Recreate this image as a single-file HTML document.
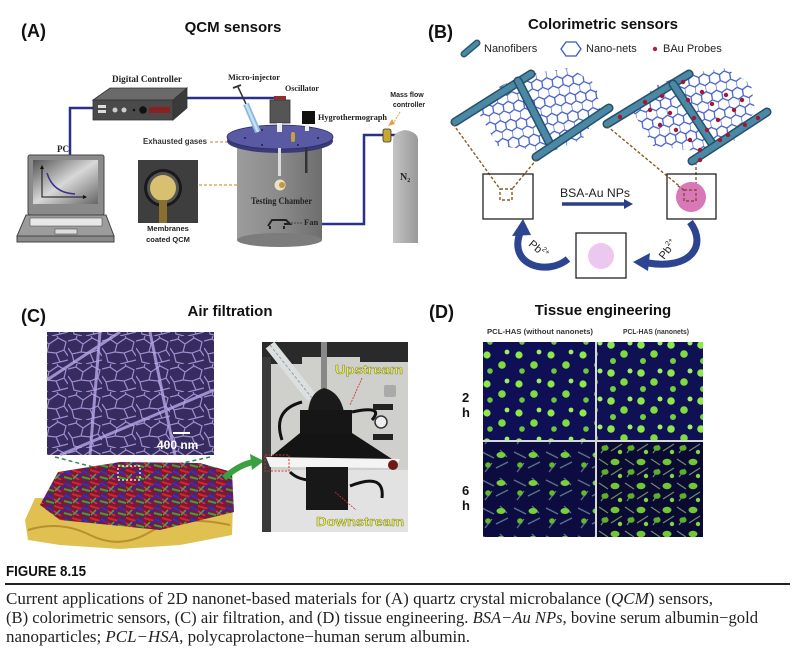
<!DOCTYPE html>
<html><head><meta charset="utf-8"><style>
html,body{margin:0;padding:0;background:#fff;}
svg{display:block;}
</style></head><body>
<svg width="800" height="660" viewBox="0 0 800 660" xmlns="http://www.w3.org/2000/svg">
<defs>
<pattern id="hex" width="10.4" height="18" patternUnits="userSpaceOnUse" patternTransform="rotate(-8)">
<path d="M0,3 L5.2,0 L10.4,3 M0,3 L0,9 L5.2,12 L10.4,9 M5.2,12 L5.2,18" stroke="#3a55c8" stroke-width="1.2" fill="none"/>
</pattern>
<pattern id="sem" width="34" height="28" patternUnits="userSpaceOnUse">
<rect width="34" height="28" fill="#362c60"/>
<path d="M0,5 L8,3 L15,8 L13,16 L4,18 L0,12 M15,8 L24,2 L32,6 L30,14 L22,17 L13,16 M22,17 L26,26 L18,28 M4,18 L6,26 L14,28 M30,14 L34,20 M24,2 L23,0 M8,3 L9,0 M26,26 L34,24" stroke="#9e8ed0" stroke-width="1.2" fill="none"/>
</pattern>
<pattern id="mat" width="18" height="12" patternUnits="userSpaceOnUse">
<rect width="18" height="12" fill="#7a1a3a"/>
<path d="M0,2 L10,5" stroke="#d82424" stroke-width="2"/>
<path d="M4,10 L16,1" stroke="#2a2aa8" stroke-width="1.8"/>
<path d="M10,9 L18,11" stroke="#3aa03a" stroke-width="2"/>
<path d="M0,7 L7,12" stroke="#e03030" stroke-width="1.6"/>
<path d="M11,3 L18,7" stroke="#3434b8" stroke-width="1.6"/>
<path d="M1,11 L6,6" stroke="#48a848" stroke-width="1.5"/>
</pattern>
<pattern id="cellA" width="32" height="29" patternUnits="userSpaceOnUse">
<rect width="32" height="29" fill="#0f0f55"/>
<circle cx="7" cy="7" r="3.6" fill="#8ee84a"/>
<circle cx="22" cy="17" r="3.8" fill="#7fdc3e"/>
<circle cx="27" cy="4" r="2.4" fill="#9cf060"/>
<circle cx="10" cy="23" r="2.8" fill="#6cc838"/>
</pattern>
<pattern id="cellB" width="30" height="28" patternUnits="userSpaceOnUse" patternTransform="translate(5,3)">
<rect width="30" height="28" fill="#101055"/>
<circle cx="6" cy="6" r="3.8" fill="#8ee84a"/>
<circle cx="19" cy="15" r="3.8" fill="#7fdc3e"/>
<circle cx="25" cy="4" r="2.5" fill="#a0f064"/>
<circle cx="8" cy="22" r="3" fill="#72d03a"/>
</pattern>
<pattern id="cellC" width="32" height="28" patternUnits="userSpaceOnUse">
<rect width="32" height="28" fill="#0c0c40"/>
<path d="M2,4 L14,10 M16,20 L28,14 M5,24 L12,15 M20,2 L27,9" stroke="#5a7488" stroke-width="1.3"/>
<ellipse cx="21" cy="7" rx="4.5" ry="3" fill="#78d03c"/>
<circle cx="8" cy="17" r="2.8" fill="#64b830"/>
</pattern>
<pattern id="cellD" width="26" height="24" patternUnits="userSpaceOnUse">
<rect width="26" height="24" fill="#0a0a32"/>
<path d="M1,3 L10,9 M13,19 L24,12 M3,21 L9,13" stroke="#6a8a68" stroke-width="1.3"/>
<ellipse cx="17" cy="6" rx="4.5" ry="3.2" fill="#70c834"/>
<ellipse cx="7" cy="16" rx="3.6" ry="2.8" fill="#5cb02a"/>
<circle cx="22" cy="20" r="2.2" fill="#84d448"/>
</pattern>
<linearGradient id="body" x1="0" x2="1" y1="0" y2="0">
<stop offset="0" stop-color="#9c9c9c"/><stop offset="0.5" stop-color="#8a8a8a"/><stop offset="1" stop-color="#6e6e6e"/>
</linearGradient>
<linearGradient id="scr" x1="0" x2="1" y1="0" y2="1">
<stop offset="0" stop-color="#555"/><stop offset="0.5" stop-color="#d8d8d8"/><stop offset="1" stop-color="#666"/>
</linearGradient>
<linearGradient id="cyl" x1="0" x2="1"><stop offset="0" stop-color="#c4c4c4"/><stop offset="1" stop-color="#999"/></linearGradient>
<clipPath id="netL"><polygon points="478,112 500,86 530,74 570,68 596,84 600,110 582,140 550,152 498,146"/></clipPath>
<clipPath id="netR"><polygon points="633,112 655,86 685,74 725,68 751,84 755,110 737,140 705,152 653,146"/></clipPath>
</defs>

<!-- ===== Panel A ===== -->
<text x="21" y="37" font-family="Liberation Sans, sans-serif" font-weight="bold" font-size="18" fill="#111">(A)</text>
<text x="233" y="32" text-anchor="middle" font-family="Liberation Sans, sans-serif" font-weight="bold" font-size="15" fill="#111">QCM sensors</text>

<polyline points="93,108 70,108 70,156" fill="none" stroke="#2a2f8a" stroke-width="2.5"/>
<polyline points="187,98 280,98" fill="none" stroke="#2a2f8a" stroke-width="2.5"/>
<polyline points="322,224 364,224 364,135 383,135" fill="none" stroke="#2a2f8a" stroke-width="2.5"/>
<line x1="391" y1="135" x2="400" y2="135" stroke="#2a2f8a" stroke-width="2.5"/>

<polygon points="93,100 110,88 187,88 173,100" fill="#6a6a6a" stroke="#333" stroke-width="0.8"/>
<polygon points="173,100 187,88 187,108 173,120" fill="#3a3a3a" stroke="#333" stroke-width="0.8"/>
<rect x="93" y="100" width="80" height="20" fill="#4a4a4a" stroke="#333" stroke-width="0.8"/>
<rect x="98" y="105" width="8" height="3" fill="#ddd"/><rect x="98" y="110" width="8" height="3" fill="#ddd"/>
<circle cx="115" cy="110" r="2.5" fill="#ccc"/><circle cx="124" cy="110" r="2.5" fill="#ccc"/>
<circle cx="134" cy="110" r="1.3" fill="#111"/><circle cx="143" cy="110" r="3.8" fill="#111"/>
<rect x="149" y="107" width="21" height="6" fill="#8a2020"/>
<text x="112" y="82" font-family="Liberation Serif, serif" font-weight="bold" font-size="9.5" textLength="70" lengthAdjust="spacingAndGlyphs" fill="#222">Digital Controller</text>

<rect x="28" y="155" width="76" height="60" rx="2" fill="#8a8a8a" stroke="#444" stroke-width="1"/>
<rect x="33" y="160" width="65" height="44" fill="url(#scr)"/>
<polyline points="42,167 42,197 84,197" fill="none" stroke="#111" stroke-width="1"/>
<polygon points="40,169 44,169 42,165" fill="#111"/><polygon points="83,195 83,199 87,197" fill="#111"/>
<path d="M47,173 Q53,193 75,194" fill="none" stroke="#3a3090" stroke-width="1.5"/>
<polygon points="26,215 106,215 114,236 17,236" fill="#9c9c9c" stroke="#444" stroke-width="1"/>
<rect x="30" y="218" width="72" height="8" fill="#e8e8e8" stroke="#555" stroke-width="0.6"/>
<rect x="55" y="229" width="22" height="5" fill="#ddd" stroke="#555" stroke-width="0.6"/>
<rect x="17" y="236" width="97" height="6" fill="#8a8a8a" stroke="#444" stroke-width="1"/>
<text x="57" y="152" font-family="Liberation Serif, serif" font-weight="bold" font-size="9" fill="#222">PC</text>

<rect x="138" y="160" width="60" height="63" fill="#3e3e3e"/>
<circle cx="163" cy="188" r="19" fill="#1a1a1a"/>
<circle cx="163" cy="188" r="16" fill="#555"/>
<circle cx="163" cy="188" r="13" fill="#d8c070"/>
<rect x="159" y="200" width="8" height="23" fill="#8a7030"/>
<text x="168" y="231" text-anchor="middle" font-family="Liberation Sans, sans-serif" font-weight="bold" font-size="7.5" fill="#222">Membranes</text>
<text x="168" y="242" text-anchor="middle" font-family="Liberation Sans, sans-serif" font-weight="bold" font-size="7.5" fill="#222">coated QCM</text>
<line x1="199" y1="185" x2="268" y2="185" stroke="#d89a40" stroke-width="1.2" stroke-dasharray="3,2"/>
<text x="143" y="144" font-family="Liberation Sans, sans-serif" font-weight="bold" font-size="7.8" textLength="64" lengthAdjust="spacingAndGlyphs" fill="#333">Exhausted gases</text>
<line x1="210" y1="142" x2="292" y2="142" stroke="#d89a40" stroke-width="1.2" stroke-dasharray="3,2"/>

<rect x="237" y="138" width="85" height="102" fill="url(#body)"/>
<ellipse cx="279.5" cy="240" rx="42.5" ry="7" fill="#7c7c7c"/>
<ellipse cx="280" cy="141" rx="53" ry="12" fill="#3a3a78"/>
<ellipse cx="280" cy="137" rx="53" ry="12" fill="#5a5aa4" stroke="#2a2a60" stroke-width="0.8"/>
<circle cx="245" cy="138" r="1" fill="#222"/><circle cx="262" cy="145" r="1" fill="#222"/><circle cx="298" cy="145" r="1" fill="#222"/><circle cx="318" cy="138" r="1" fill="#222"/><circle cx="262" cy="130" r="1" fill="#222"/>
<rect x="278" y="148" width="3" height="28" fill="#ddd"/>
<rect x="305" y="148" width="2.5" height="25" fill="#333"/>
<circle cx="280" cy="185" r="6" fill="#e8e0c8" stroke="#888" stroke-width="1"/>
<circle cx="282" cy="185" r="3" fill="#c89a30"/>
<rect x="270" y="100" width="20" height="23" fill="#555" stroke="#333" stroke-width="0.8"/>
<rect x="274" y="96" width="12" height="4" fill="#8a3030"/>
<rect x="277" y="123" width="5" height="9" fill="#eee"/>
<rect x="302" y="111" width="13" height="13" fill="#111"/>
<rect x="305" y="124" width="4" height="7" fill="#eee"/>
<rect x="291" y="132" width="4" height="10" rx="2" fill="#c8a040"/>
<line x1="238" y1="87" x2="246" y2="104" stroke="#333" stroke-width="1.5"/>
<line x1="233" y1="88" x2="241" y2="85" stroke="#333" stroke-width="2"/>
<line x1="246" y1="104" x2="258" y2="132" stroke="#8ab8e0" stroke-width="6"/>
<line x1="246" y1="104" x2="258" y2="132" stroke="#c8e0f0" stroke-width="2.5"/>
<text x="228" y="80" font-family="Liberation Serif, serif" font-weight="bold" font-size="8.5" textLength="52" lengthAdjust="spacingAndGlyphs" fill="#222">Micro-injector</text>
<text x="285" y="91" font-family="Liberation Serif, serif" font-weight="bold" font-size="8.5" textLength="34" lengthAdjust="spacingAndGlyphs" fill="#222">Oscillator</text>
<text x="318" y="120" font-family="Liberation Serif, serif" font-weight="bold" font-size="8.5" textLength="69" lengthAdjust="spacingAndGlyphs" fill="#222">Hygrothermograph</text>
<text x="251" y="204" font-family="Liberation Serif, serif" font-weight="bold" font-size="9" textLength="61" lengthAdjust="spacingAndGlyphs" fill="#222">Testing Chamber</text>
<path d="M268,226 L272,220 L286,220 L290,224 L284,224 M270,226 L270,229 M284,226 L284,229" stroke="#222" stroke-width="2" fill="none"/>
<line x1="291" y1="223" x2="303" y2="223" stroke="#333" stroke-width="0.8" stroke-dasharray="2,1"/>
<text x="304" y="225" font-family="Liberation Serif, serif" font-weight="bold" font-size="8.5" fill="#222">Fan</text>
<rect x="383" y="129" width="8" height="13" rx="2" fill="#c8a830" stroke="#333" stroke-width="0.8"/>
<line x1="400" y1="112" x2="393" y2="124" stroke="#e8a040" stroke-width="1" stroke-dasharray="2,1"/>
<polygon points="388,126 395,124 392,119" fill="#e8a040"/>
<text x="407" y="97" text-anchor="middle" font-family="Liberation Sans, sans-serif" font-weight="bold" font-size="7" fill="#222">Mass flow</text>
<text x="409" y="107" text-anchor="middle" font-family="Liberation Sans, sans-serif" font-weight="bold" font-size="7" fill="#222">controller</text>
<path d="M393,243 L393,140 Q393,132 405,130 Q418,132 418,140 L418,243 Z" fill="url(#cyl)"/>
<text x="400" y="180" font-family="Liberation Serif, serif" font-weight="bold" font-size="10" fill="#222">N<tspan font-size="6" dy="2">2</tspan></text>

<!-- ===== Panel B ===== -->
<text x="428" y="38" font-family="Liberation Sans, sans-serif" font-weight="bold" font-size="18" fill="#111">(B)</text>
<text x="603" y="29" text-anchor="middle" font-family="Liberation Sans, sans-serif" font-weight="bold" font-size="15" fill="#111">Colorimetric sensors</text>
<line x1="464" y1="54" x2="477" y2="43" stroke="#2a5a70" stroke-width="7" stroke-linecap="round"/>
<line x1="464" y1="54" x2="477" y2="43" stroke="#4a8aa5" stroke-width="4" stroke-linecap="round"/>
<text x="484" y="52" font-family="Liberation Sans, sans-serif" font-size="11" fill="#222">Nanofibers</text>
<polygon points="566,42 576,42 581,49 576,56 566,56 561,49" fill="none" stroke="#3a55c8" stroke-width="1.3"/>
<text x="586" y="52" font-family="Liberation Sans, sans-serif" font-size="11" fill="#222">Nano-nets</text>
<circle cx="655" cy="49" r="2.2" fill="#b02040"/>
<text x="663" y="52" font-family="Liberation Sans, sans-serif" font-size="11" fill="#222">BAu Probes</text>

<rect x="470" y="60" width="145" height="100" fill="url(#hex)" clip-path="url(#netL)"/>
<g stroke-linecap="round">
<line x1="455" y1="122" x2="531" y2="74" stroke="#24506a" stroke-width="9"/>
<line x1="455" y1="122" x2="531" y2="74" stroke="#4a88a4" stroke-width="6"/>
<line x1="518" y1="81" x2="549" y2="142" stroke="#24506a" stroke-width="9"/>
<line x1="518" y1="81" x2="549" y2="142" stroke="#4a88a4" stroke-width="6"/>
<line x1="536" y1="157" x2="609" y2="108" stroke="#24506a" stroke-width="9"/>
<line x1="536" y1="157" x2="609" y2="108" stroke="#4a88a4" stroke-width="6"/>
</g>
<rect x="625" y="60" width="145" height="100" fill="url(#hex)" clip-path="url(#netR)"/>
<g stroke-linecap="round">
<line x1="607" y1="124" x2="689" y2="74" stroke="#24506a" stroke-width="9"/>
<line x1="607" y1="124" x2="689" y2="74" stroke="#4a88a4" stroke-width="6"/>
<line x1="673" y1="84" x2="711" y2="142" stroke="#24506a" stroke-width="9"/>
<line x1="673" y1="84" x2="711" y2="142" stroke="#4a88a4" stroke-width="6"/>
<line x1="692" y1="161" x2="767" y2="112" stroke="#24506a" stroke-width="9"/>
<line x1="692" y1="161" x2="767" y2="112" stroke="#4a88a4" stroke-width="6"/>
</g>
<g fill="#a01838">
<circle cx="620" cy="117" r="2.2"/><circle cx="645" cy="102" r="2.2"/><circle cx="650" cy="110" r="2.2"/><circle cx="662" cy="96" r="2.2"/><circle cx="670" cy="113" r="2.2"/><circle cx="676" cy="130" r="2.2"/><circle cx="688" cy="100" r="2.2"/><circle cx="694" cy="118" r="2.2"/><circle cx="702" cy="92" r="2.2"/><circle cx="712" cy="104" r="2.2"/><circle cx="718" cy="120" r="2.2"/><circle cx="726" cy="95" r="2.2"/><circle cx="734" cy="110" r="2.2"/><circle cx="742" cy="100" r="2.2"/><circle cx="690" cy="140" r="2.2"/><circle cx="700" cy="150" r="2.2"/><circle cx="720" cy="140" r="2.2"/><circle cx="745" cy="125" r="2.2"/><circle cx="758" cy="118" r="2.2"/><circle cx="683" cy="82" r="2.2"/><circle cx="660" cy="125" r="2.2"/><circle cx="707" cy="130" r="2.2"/><circle cx="728" cy="135" r="2.2"/><circle cx="700" cy="160" r="2.2"/>
</g>
<g stroke="#8a5a20" stroke-width="1.4" stroke-dasharray="3,2" fill="none">
<line x1="453" y1="124" x2="500" y2="189"/>
<line x1="537" y1="159" x2="512" y2="189"/>
<rect x="500" y="189" width="12" height="11"/>
<line x1="607" y1="126" x2="684" y2="190"/>
<line x1="696" y1="162" x2="696" y2="190"/>
</g>
<rect x="483" y="174" width="50" height="45" fill="none" stroke="#222" stroke-width="1.3"/>
<rect x="667" y="174" width="49" height="45" fill="none" stroke="#222" stroke-width="1.3"/>
<circle cx="691" cy="197" r="15" fill="#d878b8"/>
<rect x="684" y="190" width="12" height="11" fill="none" stroke="#8a4a30" stroke-width="1.4" stroke-dasharray="3,2"/>
<line x1="684" y1="190" x2="678" y2="186" stroke="#8a4a30" stroke-width="1.4" stroke-dasharray="3,2"/>
<text x="560" y="197" font-family="Liberation Sans, sans-serif" font-size="12" textLength="70" lengthAdjust="spacingAndGlyphs" fill="#222">BSA-Au NPs</text>
<line x1="562" y1="204" x2="625" y2="204" stroke="#2a3f88" stroke-width="3.5"/>
<polygon points="624,199 633,204 624,209" fill="#2a3f88"/>
<rect x="576" y="233" width="50" height="45" fill="none" stroke="#222" stroke-width="1.3"/>
<circle cx="601" cy="256" r="13" fill="#ecc8f0"/>
<path d="M568,259 C548,276 508,266 520,233" fill="none" stroke="#2d4590" stroke-width="7"/>
<polygon points="523,219 512,236 531,235" fill="#2d4590"/>
<path d="M690,222 C708,246 690,270 648,263" fill="none" stroke="#2d4590" stroke-width="7"/>
<polygon points="633,262 650,253 648,271" fill="#2d4590"/>
<text x="0" y="0" transform="translate(528,245) rotate(40)" font-family="Liberation Sans, sans-serif" font-size="11" fill="#222">Pb<tspan font-size="7" dy="-5">2+</tspan></text>
<text x="0" y="0" transform="translate(664,260) rotate(-52)" font-family="Liberation Sans, sans-serif" font-size="11" fill="#222">Pb<tspan font-size="7" dy="-5">2+</tspan></text>

<!-- ===== Panel C ===== -->
<text x="21" y="322" font-family="Liberation Sans, sans-serif" font-weight="bold" font-size="18" fill="#111">(C)</text>
<text x="230" y="316" text-anchor="middle" font-family="Liberation Sans, sans-serif" font-weight="bold" font-size="15" fill="#111">Air filtration</text>
<rect x="47" y="332" width="167" height="123" fill="url(#sem)"/>
<g stroke="#b8a8e8" stroke-width="3" fill="none" opacity="0.8">
<line x1="47" y1="380" x2="120" y2="332"/>
<line x1="150" y1="332" x2="175" y2="455"/>
<line x1="60" y1="455" x2="214" y2="390"/>
<line x1="100" y1="332" x2="90" y2="455"/>
</g>
<line x1="173" y1="433" x2="190" y2="433" stroke="#fff" stroke-width="2"/>
<text x="157" y="449" font-family="Liberation Sans, sans-serif" font-weight="bold" font-size="12" fill="#fff">400 nm</text>
<line x1="55" y1="457" x2="120" y2="474" stroke="#2a8a50" stroke-width="1.5" stroke-dasharray="4,3"/>
<line x1="210" y1="457" x2="142" y2="472" stroke="#2a8a50" stroke-width="1.5" stroke-dasharray="4,3"/>
<polygon points="25,520 35,498 140,500 233,505 232,535 180,545 120,549 60,545 28,540" fill="#e0c050"/>
<path d="M28,530 Q60,520 90,535 T150,532 T230,525" fill="none" stroke="#b89030" stroke-width="2"/>
<polygon points="40,505 58,472 120,462 200,463 232,472 234,512 160,530 60,520" fill="url(#mat)"/>
<rect x="118" y="466" width="22" height="14" fill="none" stroke="#fff" stroke-width="1.2" stroke-dasharray="2,2"/>
<path d="M224,478 Q240,464 254,462" fill="none" stroke="#3aa040" stroke-width="6"/>
<polygon points="250,454 264,461 252,470" fill="#3aa040"/>
<!-- photo -->
<rect x="262" y="342" width="146" height="190" fill="#cfcfcc"/>
<rect x="262" y="342" width="146" height="15" fill="#2a2a2a"/>
<rect x="262" y="342" width="40" height="22" fill="#2a2a2a"/>
<rect x="360" y="342" width="48" height="20" fill="#2a2a2a"/>
<rect x="262" y="357" width="9" height="175" fill="#3a3a3a"/>
<rect x="271" y="470" width="137" height="62" fill="#e2e2e2"/>
<line x1="270" y1="345" x2="312" y2="398" stroke="#dcdfdf" stroke-width="11"/>
<line x1="270" y1="345" x2="312" y2="398" stroke="#9a9e9e" stroke-width="1" stroke-dasharray="3,2"/>
<rect x="321" y="342" width="6" height="48" fill="#888"/>
<path d="M282,440 Q272,410 302,402 M352,412 Q385,405 372,420 M290,472 Q300,482 320,480 M350,486 Q385,472 382,498" fill="none" stroke="#111" stroke-width="3"/>
<path d="M308,412 Q310,392 324,388 Q340,392 344,412 Z" fill="#1a1a1a"/>
<rect x="300" y="410" width="52" height="24" fill="#161616"/>
<polygon points="300,433 352,433 392,459 268,459" fill="#141414"/>
<polygon points="266,457 400,459 395,468 270,467" fill="#f4f4f4"/>
<rect x="306" y="467" width="42" height="43" fill="#181818"/>
<circle cx="381" cy="422" r="6" fill="#eee" stroke="#333" stroke-width="1.5"/>
<rect x="373" y="404" width="20" height="6" fill="#222"/>
<rect x="373" y="434" width="20" height="6" fill="#222"/>
<rect x="384" y="385" width="12" height="12" rx="2" fill="#aaa"/>
<circle cx="393" cy="465" r="5" fill="#701818"/>
<rect x="265" y="455" width="24" height="16" fill="none" stroke="#d03030" stroke-width="1" stroke-dasharray="2,1.5"/>
<line x1="362" y1="378" x2="350" y2="405" stroke="#d03030" stroke-width="0.8" stroke-dasharray="2,1"/>
<line x1="335" y1="492" x2="356" y2="510" stroke="#d03030" stroke-width="0.8" stroke-dasharray="2,1"/>
<text x="335" y="374" font-family="Liberation Sans, sans-serif" font-weight="bold" font-size="13" textLength="68" lengthAdjust="spacingAndGlyphs" fill="#e8f040" stroke="#444" stroke-width="0.3">Upstream</text>
<text x="316" y="526" font-family="Liberation Sans, sans-serif" font-weight="bold" font-size="13" textLength="88" lengthAdjust="spacingAndGlyphs" fill="#e8f040" stroke="#444" stroke-width="0.3">Downstream</text>

<!-- ===== Panel D ===== -->
<text x="429" y="318" font-family="Liberation Sans, sans-serif" font-weight="bold" font-size="18" fill="#111">(D)</text>
<text x="603" y="315" text-anchor="middle" font-family="Liberation Sans, sans-serif" font-weight="bold" font-size="15" fill="#111">Tissue engineering</text>
<text x="487" y="334" font-family="Liberation Sans, sans-serif" font-weight="bold" font-size="7" textLength="106" lengthAdjust="spacingAndGlyphs" fill="#333">PCL-HAS (without nanonets)</text>
<text x="623" y="334" font-family="Liberation Sans, sans-serif" font-weight="bold" font-size="7" textLength="66" lengthAdjust="spacingAndGlyphs" fill="#333">PCL-HAS (nanonets)</text>
<rect x="483" y="342" width="112" height="98" fill="url(#cellA)"/>
<rect x="597" y="342" width="106" height="98" fill="url(#cellB)"/>
<rect x="483" y="442" width="112" height="95" fill="url(#cellC)"/>
<rect x="597" y="442" width="106" height="95" fill="url(#cellD)"/>
<line x1="596" y1="342" x2="596" y2="537" stroke="#ccc" stroke-width="1.5"/>
<line x1="483" y1="441" x2="703" y2="441" stroke="#ccc" stroke-width="1.5"/>
<text x="462" y="402" font-family="Liberation Sans, sans-serif" font-weight="bold" font-size="13" fill="#111">2</text>
<text x="462" y="417" font-family="Liberation Sans, sans-serif" font-weight="bold" font-size="13" fill="#111">h</text>
<text x="462" y="495" font-family="Liberation Sans, sans-serif" font-weight="bold" font-size="13" fill="#111">6</text>
<text x="462" y="510" font-family="Liberation Sans, sans-serif" font-weight="bold" font-size="13" fill="#111">h</text>

<!-- ===== Caption ===== -->
<text x="6" y="576" font-family="Liberation Sans, sans-serif" font-weight="bold" font-size="15" textLength="80" lengthAdjust="spacingAndGlyphs" fill="#111">FIGURE 8.15</text>
<line x1="5" y1="584" x2="790" y2="584" stroke="#222" stroke-width="2"/>
<text x="6" y="604" font-family="Liberation Serif, serif" font-size="16.5" textLength="707" lengthAdjust="spacingAndGlyphs" fill="#222">Current applications of 2D nanonet-based materials for (A) quartz crystal microbalance (<tspan font-style="italic">QCM</tspan>) sensors,</text>
<text x="6" y="623" font-family="Liberation Serif, serif" font-size="16.5" textLength="752" lengthAdjust="spacingAndGlyphs" fill="#222">(B) colorimetric sensors, (C) air filtration, and (D) tissue engineering. <tspan font-style="italic">BSA−Au NPs</tspan>, bovine serum albumin−gold</text>
<text x="6" y="642" font-family="Liberation Serif, serif" font-size="16.5" textLength="464" lengthAdjust="spacingAndGlyphs" fill="#222">nanoparticles; <tspan font-style="italic">PCL−HSA</tspan>, polycaprolactone−human serum albumin.</text>
</svg>
</body></html>
